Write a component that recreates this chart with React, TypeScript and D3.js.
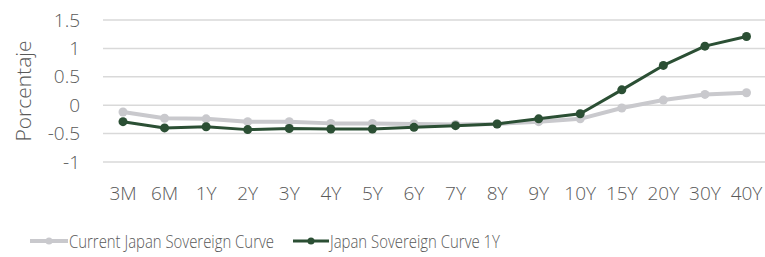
import React from 'react';
import * as d3 from 'd3';

const categories = ['3M', '6M', '1Y', '2Y', '3Y', '4Y', '5Y', '6Y', '7Y', '8Y', '9Y', '10Y', '15Y', '20Y', '30Y', '40Y'];
const currentCurve = [-0.12, -0.23, -0.24, -0.29, -0.29, -0.32, -0.32, -0.33, -0.34, -0.33, -0.29, -0.24, -0.05, 0.09, 0.19, 0.22];
const curve1Y = [-0.29, -0.40, -0.38, -0.43, -0.41, -0.42, -0.42, -0.39, -0.36, -0.33, -0.24, -0.15, 0.27, 0.70, 1.04, 1.21];
const yTicks = [1.5, 1, 0.5, 0, -0.5, -1];
const seriesNames = ['Current Japan Sovereign Curve', 'Japan Sovereign Curve 1Y'];

const GRAY = '#c9c9cd';
const GREEN = '#2b4f34';
const TEXT = '#595959';
const FONT = '"Open Sans", sans-serif';

const App = () => {
  const width = 765;
  const height = 257;

  // category positions
  const x = d3.scalePoint<string>()
    .domain(categories)
    .range([123, 746.5]);

  const y = d3.scaleLinear()
    .domain([-1, 1.5])
    .range([162, 20]);

  const line = d3.line<number>()
    .x((d, i) => x(categories[i]) as number)
    .y(d => y(d));

  const series = [
    { name: seriesNames[0], values: currentCurve, color: GRAY, width: 4, r: 4.5 },
    { name: seriesNames[1], values: curve1Y, color: GREEN, width: 3, r: 4.5 },
  ];

  const legendPos = [
    { x0: 30, x1: 68, tx: 69, len: 205 },
    { x0: 293, x1: 329, tx: 330, len: 170 },
  ];

  return (
    <svg width={width} height={height} style={{ position: 'absolute', left: 0, top: 0 }}>
      {/* gridlines */}
      {yTicks.map(t => (
        <line key={t} x1={103} x2={765} y1={y(t)} y2={y(t)} stroke="#d9d9d9" strokeWidth={1.5} />
      ))}
      {/* y tick labels */}
      {yTicks.map(t => (
        <text key={'l' + t} x={80} y={y(t)} dy="0.35em" textAnchor="end"
          fontFamily={FONT} fontWeight={300} fontSize={19} fill={TEXT}>{t}</text>
      ))}
      <text transform={`translate(31,${(y(1.5) + y(-1)) / 2}) rotate(-90)`} textAnchor="middle"
        fontFamily={FONT} fontWeight={300} fontSize={21} fill={TEXT}>Porcentaje</text>
      {/* x labels */}
      {categories.map(c => (
        <text key={c} x={x(c)} y={193} dy="0.35em" textAnchor="middle"
          fontFamily={FONT} fontWeight={300} fontSize={19} fill={TEXT}>{c}</text>
      ))}
      {/* series */}
      {series.map(s => (
        <g key={s.name}>
          <path d={line(s.values) || ''} fill="none" stroke={s.color} strokeWidth={s.width} strokeLinejoin="round" />
          {s.values.map((v, i) => (
            <circle key={i} cx={x(categories[i])} cy={y(v)} r={s.r} fill={s.color} />
          ))}
        </g>
      ))}
      {/* legend */}
      {series.map((s, i) => (
        <g key={'lg' + s.name}>
          <line x1={legendPos[i].x0} x2={legendPos[i].x1} y1={241} y2={241} stroke={s.color} strokeWidth={s.width} />
          <circle cx={(legendPos[i].x0 + legendPos[i].x1) / 2} cy={241} r={3.5} fill={s.color} />
          <text x={legendPos[i].tx} y={241} dy="0.35em" fontFamily={FONT} fontWeight={300} fontSize={19}
            textLength={legendPos[i].len} lengthAdjust="spacingAndGlyphs" fill={TEXT}>{s.name}</text>
        </g>
      ))}
    </svg>
  );
};

export default App;
